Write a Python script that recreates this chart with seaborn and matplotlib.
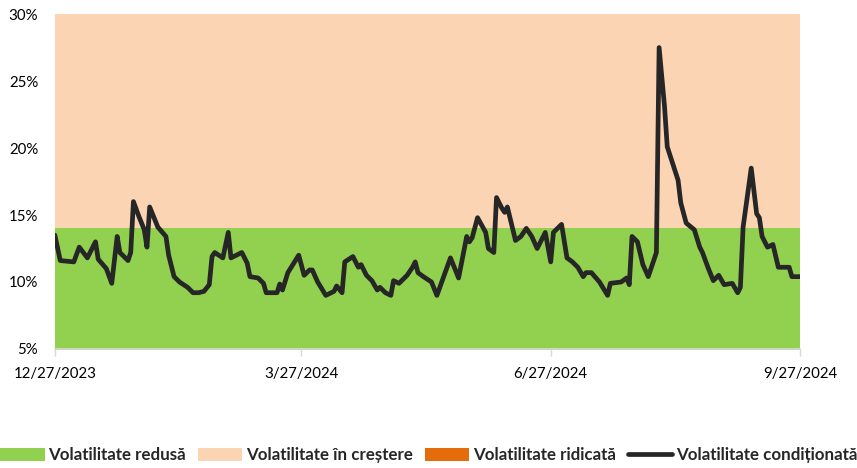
import matplotlib
matplotlib.use("Agg")
import matplotlib.pyplot as plt
import matplotlib.dates as mdates
from matplotlib.ticker import PercentFormatter
import numpy as np
import pandas as pd
import seaborn as sns

# conditional volatility (fractions)
dates = [
    "2023-12-27", "2023-12-29", "2024-01-03", "2024-01-05", "2024-01-08", "2024-01-11",
    "2024-01-12", "2024-01-15", "2024-01-17", "2024-01-19", "2024-01-20", "2024-01-23",
    "2024-01-24", "2024-01-25", "2024-01-27", "2024-01-29", "2024-01-30", "2024-01-31",
    "2024-02-01", "2024-02-03", "2024-02-06", "2024-02-07", "2024-02-09", "2024-02-11",
    "2024-02-14", "2024-02-16", "2024-02-18", "2024-02-20", "2024-02-22", "2024-02-23",
    "2024-02-24", "2024-02-27", "2024-02-29", "2024-03-01", "2024-03-05", "2024-03-07",
    "2024-03-08", "2024-03-11", "2024-03-13", "2024-03-14", "2024-03-18", "2024-03-19",
    "2024-03-20", "2024-03-22", "2024-03-26", "2024-03-28", "2024-03-30", "2024-03-31",
    "2024-04-02", "2024-04-05", "2024-04-08", "2024-04-09", "2024-04-11", "2024-04-12",
    "2024-04-15", "2024-04-17", "2024-04-18", "2024-04-20", "2024-04-22", "2024-04-24",
    "2024-04-25", "2024-04-27", "2024-04-29", "2024-04-30", "2024-05-02", "2024-05-05",
    "2024-05-07", "2024-05-08", "2024-05-09", "2024-05-11", "2024-05-14", "2024-05-16",
    "2024-05-21", "2024-05-24", "2024-05-27", "2024-05-28", "2024-05-29", "2024-05-31",
    "2024-06-03", "2024-06-04", "2024-06-06", "2024-06-07", "2024-06-09", "2024-06-10",
    "2024-06-11", "2024-06-14", "2024-06-16", "2024-06-18", "2024-06-20", "2024-06-22",
    "2024-06-25", "2024-06-27", "2024-06-28", "2024-07-01", "2024-07-03", "2024-07-05",
    "2024-07-07", "2024-07-09", "2024-07-10", "2024-07-12", "2024-07-15", "2024-07-18",
    "2024-07-19", "2024-07-23", "2024-07-25", "2024-07-26", "2024-07-27", "2024-07-29",
    "2024-07-31", "2024-08-02", "2024-08-05", "2024-08-06", "2024-08-08", "2024-08-09",
    "2024-08-13", "2024-08-14", "2024-08-16", "2024-08-19", "2024-08-21", "2024-08-22",
    "2024-08-24", "2024-08-26", "2024-08-28", "2024-08-30", "2024-09-02", "2024-09-04",
    "2024-09-05", "2024-09-06", "2024-09-09", "2024-09-11", "2024-09-12", "2024-09-13",
    "2024-09-15", "2024-09-17", "2024-09-19", "2024-09-23", "2024-09-24", "2024-09-27",
]
volatility = [
    13.5, 11.6, 11.5, 12.6, 11.8, 13.0,
    11.7, 11.0, 9.9, 13.4, 12.2, 11.6,
    12.2, 16.0, 14.9, 13.9, 12.6, 15.6,
    15.1, 14.1, 13.4, 12.0, 10.4, 10.0,
    9.6, 9.2, 9.2, 9.3, 9.8, 11.9,
    12.2, 11.8, 13.7, 11.8, 12.2, 11.4,
    10.4, 10.3, 9.9, 9.2, 9.2, 9.85,
    9.4, 10.7, 12.0, 10.5, 10.9, 10.9,
    10.0, 9.0, 9.3, 9.7, 9.2, 11.5,
    11.9, 11.1, 11.3, 10.5, 10.1, 9.4,
    9.6, 9.2, 9.0, 10.1, 9.9, 10.5,
    11.1, 11.5, 10.7, 10.4, 10.0, 9.0,
    11.8, 10.3, 13.4, 13.0, 13.3, 14.8,
    13.7, 12.5, 12.2, 16.3, 15.5, 15.2,
    15.6, 13.1, 13.4, 14.0, 13.4, 12.5,
    13.7, 11.5, 13.7, 14.3, 11.8, 11.5,
    11.1, 10.4, 10.7, 10.7, 10.0, 9.0,
    9.9, 10.0, 10.3, 9.8, 13.4, 13.0,
    11.3, 10.4, 12.2, 27.5, 23.1, 20.1,
    17.6, 15.9, 14.4, 13.9, 12.6, 12.2,
    11.1, 10.1, 10.5, 9.8, 9.9, 9.2,
    9.6, 14.1, 18.5, 15.1, 14.8, 13.4,
    12.6, 12.8, 11.1, 11.1, 10.4, 10.4,
]

# regime thresholds
low_upper = 0.14
rising_upper = 0.30
high_upper = 0.40

tick_dates = ["2023-12-27", "2024-03-27", "2024-06-27", "2024-09-27"]
labels = ["Volatilitate redusă", "Volatilitate în creștere",
          "Volatilitate ridicată", "Volatilitate condiționată"]

df = pd.DataFrame({"date": pd.to_datetime(dates),
                   "vol": np.array(volatility) / 100})

sns.set_theme(style="white")
plt.rcParams["font.family"] = ["Lato", "DejaVu Sans"]

fig = plt.figure(figsize=(8.57, 4.68), dpi=100)
ax = fig.add_axes([0.064, 0.2543, 0.8695, 0.7157])

span = pd.to_datetime([dates[0], dates[-1]])
ax.fill_between(span, 0, low_upper, color="#92D050", lw=0, label=labels[0])
ax.fill_between(span, low_upper, rising_upper, color="#FBD4B4", lw=0, label=labels[1])
ax.fill_between(span, rising_upper, high_upper, color="#E46C0A", lw=0, label=labels[2])

sns.lineplot(data=df, x="date", y="vol", ax=ax, color="#262626",
             linewidth=3.4, label=labels[3])
if ax.get_legend():
    ax.get_legend().remove()

ax.set_xlim(span[0], span[1])
ax.set_ylim(0.05, 0.30)
ax.set_yticks(np.arange(0.05, 0.301, 0.05))
ax.yaxis.set_major_formatter(PercentFormatter(1.0, decimals=0))
ax.set_xticks(pd.to_datetime(tick_dates))
ax.xaxis.set_major_formatter(
    matplotlib.ticker.FuncFormatter(
        lambda v, p: "{d.month}/{d.day}/{d.year}".format(d=mdates.num2date(v))))
ax.set_xlabel("")
ax.set_ylabel("")

for s in ["left", "right", "top"]:
    ax.spines[s].set_visible(False)
ax.spines["bottom"].set_color("#D9D9D9")
ax.spines["bottom"].set_linewidth(1.2)
ax.tick_params(axis="x", bottom=True, length=5, width=1, color="#D9D9D9",
               labelsize=10.8, labelcolor="#000000", pad=8)
ax.tick_params(axis="y", left=False, labelsize=10.8, labelcolor="#000000", pad=6)

handles, hl = ax.get_legend_handles_labels()
order = [hl.index(l) for l in labels]
fig.legend([handles[i] for i in order], labels, loc="center",
           bbox_to_anchor=(0.5, 0.027), ncol=4, frameon=False,
           handlelength=2.65, handleheight=0.8, handletextpad=0.2,
           columnspacing=0.7, borderaxespad=0, borderpad=0,
           prop={"weight": "bold", "size": 12.2})

fig.savefig("out.png", dpi=100)
